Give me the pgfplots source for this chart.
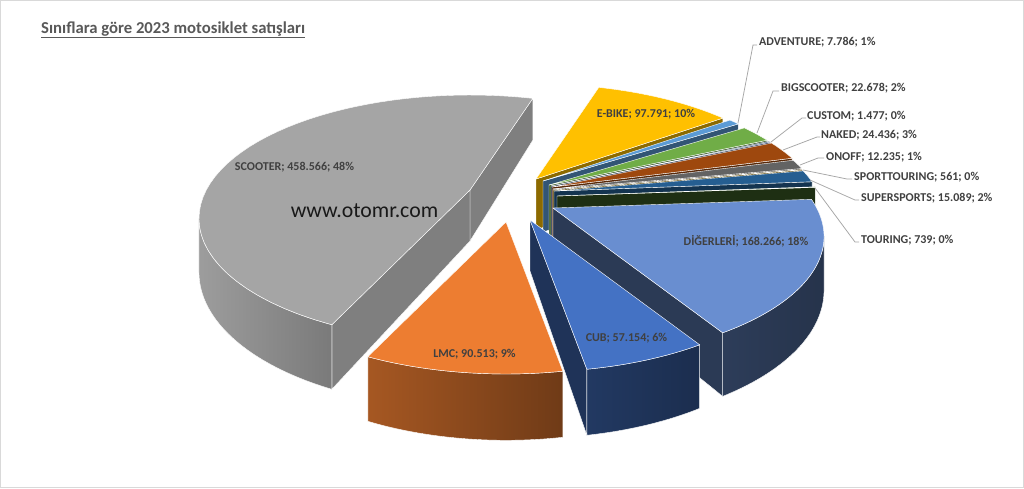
\documentclass[border=0pt]{standalone}
\usepackage{pgfplots}
\pgfplotsset{compat=1.18}
\usepackage{fontspec}
\setmainfont{Carlito}

% ---- data (thousands) ----
\def\vCUB{57.154}
\def\vLMC{90.513}
\def\vSCO{458.566}
\def\vEBI{97.791}
\def\vADV{7.786}
\def\vBIG{22.678}
\def\vCUS{1.477}
\def\vNAK{24.436}
\def\vONO{12.235}
\def\vSPT{0.561}
\def\vSUP{15.089}
\def\vTOU{0.739}
\def\vDIG{168.266}

% ---- projection geometry (pixels) ----
\def\cx{528}\def\cy{198}\def\sx{263.7}\def\sq{116.9}\def\kk{0.2308}\def\dd{51}

\pgfmathsetmacro\tot{\vCUB+\vLMC+\vSCO+\vEBI+\vADV+\vBIG+\vCUS+\vNAK+\vONO+\vSPT+\vSUP+\vTOU+\vDIG}
\pgfmathsetmacro\bA{-58.92}
\pgfmathsetmacro\bB{\bA-360*(\vCUB/\tot)}
\pgfmathsetmacro\bC{\bB-360*(\vLMC/\tot)}
\pgfmathsetmacro\bDm{\bC-360*(\vSCO/\tot)}
\pgfmathsetmacro\bD{\bDm+360}
\pgfmathsetmacro\bE{\bD-360*(\vEBI/\tot)}
\pgfmathsetmacro\bF{\bE-360*(\vADV/\tot)}
\pgfmathsetmacro\bG{\bF-360*(\vBIG/\tot)}
\pgfmathsetmacro\bH{\bG-360*(\vCUS/\tot)}
\pgfmathsetmacro\bI{\bH-360*(\vNAK/\tot)}
\pgfmathsetmacro\bJ{\bI-360*(\vONO/\tot)}
\pgfmathsetmacro\bK{\bJ-360*(\vSPT/\tot)}
\pgfmathsetmacro\bL{\bK-360*(\vSUP/\tot)}
\pgfmathsetmacro\bM{\bL-360*(\vTOU/\tot)}

\definecolor{cub}{HTML}{4472C4}
\definecolor{lmc}{HTML}{ED7D31}
\definecolor{scooter}{HTML}{A5A5A5}
\definecolor{ebike}{HTML}{FFC000}
\definecolor{adv}{HTML}{5B9BD5}
\definecolor{bigs}{HTML}{70AD47}
\definecolor{custom}{HTML}{264478}
\definecolor{naked}{HTML}{9E480E}
\definecolor{onoff}{HTML}{636363}
\definecolor{sportt}{HTML}{997300}
\definecolor{supers}{HTML}{255E91}
\definecolor{touring}{HTML}{43682B}
\definecolor{dig}{HTML}{698ED0}
\definecolor{labeltxt}{HTML}{404040}
\definecolor{titletxt}{HTML}{595959}
\definecolor{leader}{HTML}{A6A6A6}
\definecolor{frame}{HTML}{D9D9D9}

% radial (cut) wall: angle, ox, oy, colour
\newcommand\radwall[4]{%
  \pgfmathsetmacro\pax{\cx+#2}%
  \pgfmathsetmacro\pay{\cy+#3}%
  \pgfmathsetmacro\pbx{\pax+\sx*cos(#1)/(1+\kk*sin(#1))}%
  \pgfmathsetmacro\pby{\pay-\sq*sin(#1)/(1+\kk*sin(#1))}%
  \pgfmathsetmacro\pcy{\pby+\dd/(1+\kk*sin(#1))}%
  \pgfmathsetmacro\pdy{\pay+\dd}%
  \addplot[fill=#4,draw=white,line width=0.4pt] coordinates {(\pax,\pay) (\pbx,\pby) (\pbx,\pcy) (\pax,\pdy)} -- cycle;
}

% slice: low angle, high angle, ox, oy, top colour, cut colour, outer-left, outer-right
\newcommand\pieslice[8]{%
  \pgfmathtruncatemacro\visA{cos(#1)>0}%
  \pgfmathtruncatemacro\visB{cos(#2)<0}%
  \ifnum\visA=1 \radwall{#1}{#3}{#4}{#6}\fi
  \ifnum\visB=1 \radwall{#2}{#3}{#4}{#6}\fi
  \pgfmathsetmacro\wl{max(#1,-166.7)}%
  \pgfmathsetmacro\wh{min(#2,-13.3)}%
  \pgfmathtruncatemacro\visW{\wh>\wl}%
  \ifnum\visW=1
    \def\AW{((x<1)?(\wl+(\wh-\wl)*x):((x<2)?(\wh):(\wh-(\wh-\wl)*(x-2))))}%
    \def\DW{((x<1)?0:((x<2)?(x-1):1))}%
    \addplot[draw=white,line width=0.4pt,left color=#7,right color=#8,domain=0:3,samples=151]
      ({\cx+#3+\sx*cos(\AW)/(1+\kk*sin(\AW))},{\cy+#4+(\DW*\dd-\sq*sin(\AW))/(1+\kk*sin(\AW))}) -- cycle;
  \fi
  \def\AT{((x<1)?(#1):((x<2)?((#1)+((#2)-(#1))*(x-1)):(#2)))}%
  \def\RT{((x<1)?(x):((x<2)?1:(3-x)))}%
  \addplot[fill=#5,draw=white,line width=0.4pt,domain=0:3,samples=151]
    ({\cx+#3+\RT*\sx*cos(\AT)/(1+\kk*sin(\AT))},{\cy+#4-\RT*\sq*sin(\AT)/(1+\kk*sin(\AT))}) -- cycle;
}

\begin{document}
\begin{tikzpicture}
\begin{axis}[
  width=1024pt, height=488pt, scale only axis,
  xmin=0, xmax=1024, ymin=0, ymax=488, y dir=reverse,
  hide axis, clip=false]
% chart area
\addplot[fill=white,draw=frame,line width=1pt] coordinates {(0.5,0.5) (1023.5,0.5) (1023.5,487.5) (0.5,487.5)} -- cycle;

% slices, back to front
\pieslice{\bE}{\bD}{8}{-19}{ebike}{ebike!55!black}{ebike}{ebike}
\pieslice{\bF}{\bE}{15}{-17}{adv}{adv!55!black}{adv}{adv}
\pieslice{\bG}{\bF}{21}{-13}{bigs}{bigs!55!black}{bigs}{bigs}
\pieslice{\bH}{\bG}{23}{-12}{custom}{custom!55!black}{custom}{custom}
\pieslice{\bI}{\bH}{24}{-11}{naked}{naked!55!black}{naked}{naked}
\pieslice{\bJ}{\bI}{25}{-9}{onoff}{onoff!55!black}{onoff}{onoff}
\pieslice{\bK}{\bJ}{25}{-8}{sportt}{sportt!55!black}{sportt}{sportt}
\pieslice{\bL}{\bK}{26}{-7}{supers}{supers!55!black}{supers}{supers}
\pieslice{\bM}{\bL}{29}{-2}{touring}{touring!45!black}{touring}{touring}
\pieslice{\bDm}{\bC}{-58}{-8}{scooter}{scooter!77!black}{scooter!95!black}{scooter!74!black}
\pieslice{\bA}{\bM}{25}{10}{dig}{dig!41!black}{dig!43!black}{dig!36!black}
\pieslice{\bC}{\bB}{-22}{24}{lmc}{lmc!55!black}{lmc!70!black}{lmc!47!black}
\pieslice{\bB}{\bA}{2}{22}{cub}{cub!45!black}{cub!50!black}{cub!40!black}

% leader lines
\addplot[leader,line width=0.75pt] coordinates {(738,123) (753,45) (757,45)};
\addplot[leader,line width=0.75pt] coordinates {(757,133) (773,91) (779,91)};
\addplot[leader,line width=0.75pt] coordinates {(771,142) (802,118) (806,118)};
\addplot[leader,line width=0.75pt] coordinates {(783,150) (817,137) (820,137)};
\addplot[leader,line width=0.75pt] coordinates {(800,165) (818,158) (824,158)};
\addplot[leader,line width=0.75pt] coordinates {(803,170) (847,179) (852,179)};
\addplot[leader,line width=0.75pt] coordinates {(810,180) (855,200) (859,200)};
\addplot[leader,line width=0.75pt] coordinates {(815,188) (855,242) (859,242)};

% labels
\tikzset{lbl/.style={font=\fontsize{12}{14}\selectfont\bfseries, text=labeltxt, inner sep=0pt}}
\node[lbl,anchor=base west] at (axis cs:759,45) {ADVENTURE; 7.786; 1\%};
\node[lbl,anchor=base west] at (axis cs:781,91) {BIGSCOOTER; 22.678; 2\%};
\node[lbl,anchor=base west] at (axis cs:807,119) {CUSTOM; 1.477; 0\%};
\node[lbl,anchor=base west] at (axis cs:821,138) {NAKED; 24.436; 3\%};
\node[lbl,anchor=base west] at (axis cs:826,160) {ONOFF; 12.235; 1\%};
\node[lbl,anchor=base west] at (axis cs:854,180) {SPORTTOURING; 561; 0\%};
\node[lbl,anchor=base west] at (axis cs:861,201) {SUPERSPORTS; 15.089; 2\%};
\node[lbl,anchor=base west] at (axis cs:861,243) {TOURING; 739; 0\%};
\node[lbl,anchor=base] at (axis cs:294.5,170) {SCOOTER; 458.566; 48\%};
\node[lbl,anchor=base] at (axis cs:646,117) {E-BIKE; 97.791; 10\%};
\node[lbl,anchor=base] at (axis cs:474.5,357) {LMC; 90.513; 9\%};
\node[lbl,anchor=base] at (axis cs:626.5,341) {CUB; 57.154; 6\%};
\node[lbl,anchor=base] at (axis cs:746,245) {DİĞERLERİ; 168.266; 18\%};

\node[anchor=base,inner sep=0pt,font=\fontsize{21.8}{24}\selectfont,text=black!90] at (axis cs:364.5,217.5) {www.otomr.com};
\node[anchor=base west,inner sep=0pt,font=\fontsize{16.7}{19}\selectfont\bfseries,text=titletxt] at (axis cs:41,33) {\underline{Sınıflara göre 2023 motosiklet satışları}};
\end{axis}
\end{tikzpicture}
\end{document}
